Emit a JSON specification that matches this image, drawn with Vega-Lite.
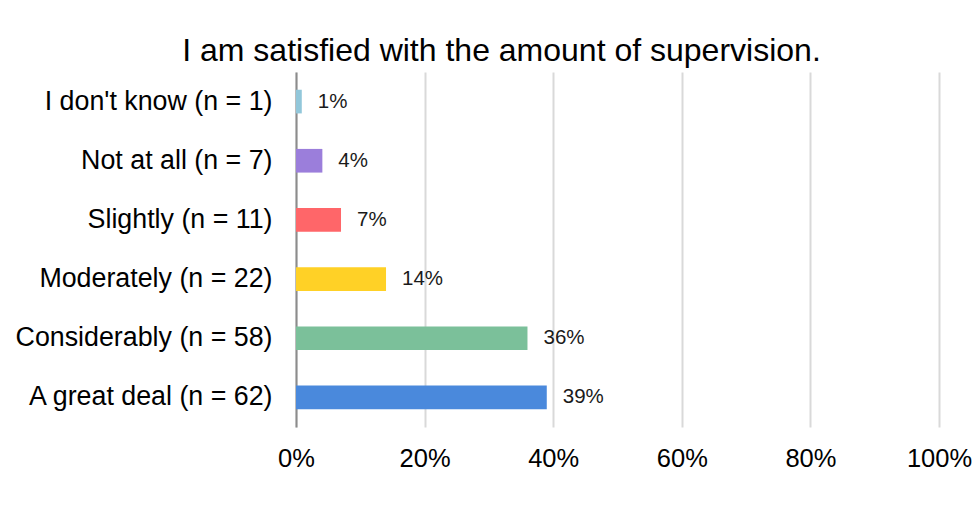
{
  "$schema": "https://vega.github.io/schema/vega-lite/v6.json",
  "autosize": "none",
  "width": 643,
  "height": 355,
  "padding": {"left": 296, "top": 72, "right": 38, "bottom": 84},
  "background": "white",
  "title": {
    "text": "I am satisfied with the amount of supervision.",
    "font": "Liberation Sans",
    "fontSize": 32,
    "fontWeight": "normal",
    "color": "#000000",
    "anchor": "middle",
    "dx": -116,
    "offset": 4
  },
  "data": {
    "values": [
      {"category": "I don't know (n = 1)", "value": 0.009},
      {"category": "Not at all (n = 7)", "value": 0.041},
      {"category": "Slightly (n = 11)", "value": 0.07},
      {"category": "Moderately (n = 22)", "value": 0.14},
      {"category": "Considerably (n = 58)", "value": 0.36},
      {"category": "A great deal (n = 62)", "value": 0.39}
    ]
  },
  "encoding": {
    "y": {
      "field": "category",
      "type": "nominal",
      "sort": null,
      "scale": {"paddingInner": 0.6, "paddingOuter": 0.3},
      "axis": {
        "title": null,
        "labelFont": "Liberation Sans",
        "labelFontSize": 26.8,
        "labelColor": "#000000",
        "labelPadding": 24,
        "labelLimit": 0,
        "ticks": false,
        "domain": true,
        "domainColor": "#8c8c8c",
        "domainWidth": 2,
        "grid": false
      }
    },
    "x": {
      "field": "value",
      "type": "quantitative",
      "scale": {"domain": [0, 1]},
      "axis": {
        "title": null,
        "format": ".0%",
        "values": [0, 0.2, 0.4, 0.6, 0.8, 1],
        "labelFont": "Liberation Sans",
        "labelFontSize": 25.5,
        "labelColor": "#000000",
        "labelPadding": 19,
        "labelFlush": false,
        "labelAlign": "center",
        "ticks": false,
        "domain": false,
        "grid": true,
        "gridColor": "#d9d9d9",
        "gridWidth": 2
      }
    }
  },
  "layer": [
    {
      "mark": {"type": "bar"},
      "encoding": {
        "color": {
          "field": "category",
          "type": "nominal",
          "legend": null,
          "scale": {
            "domain": ["I don't know (n = 1)", "Not at all (n = 7)", "Slightly (n = 11)", "Moderately (n = 22)", "Considerably (n = 58)", "A great deal (n = 62)"],
            "range": ["#92C7DA", "#9B7EDB", "#FF6669", "#FFD126", "#7BC09A", "#4A89DC"]
          }
        }
      }
    },
    {
      "mark": {"type": "text", "align": "left", "dx": 16, "font": "Liberation Sans", "fontSize": 20.5, "color": "#1a1a1a"},
      "encoding": {
        "text": {"field": "value", "type": "quantitative", "format": ".0%"}
      }
    }
  ],
  "config": {
    "view": {"stroke": null}
  }
}
